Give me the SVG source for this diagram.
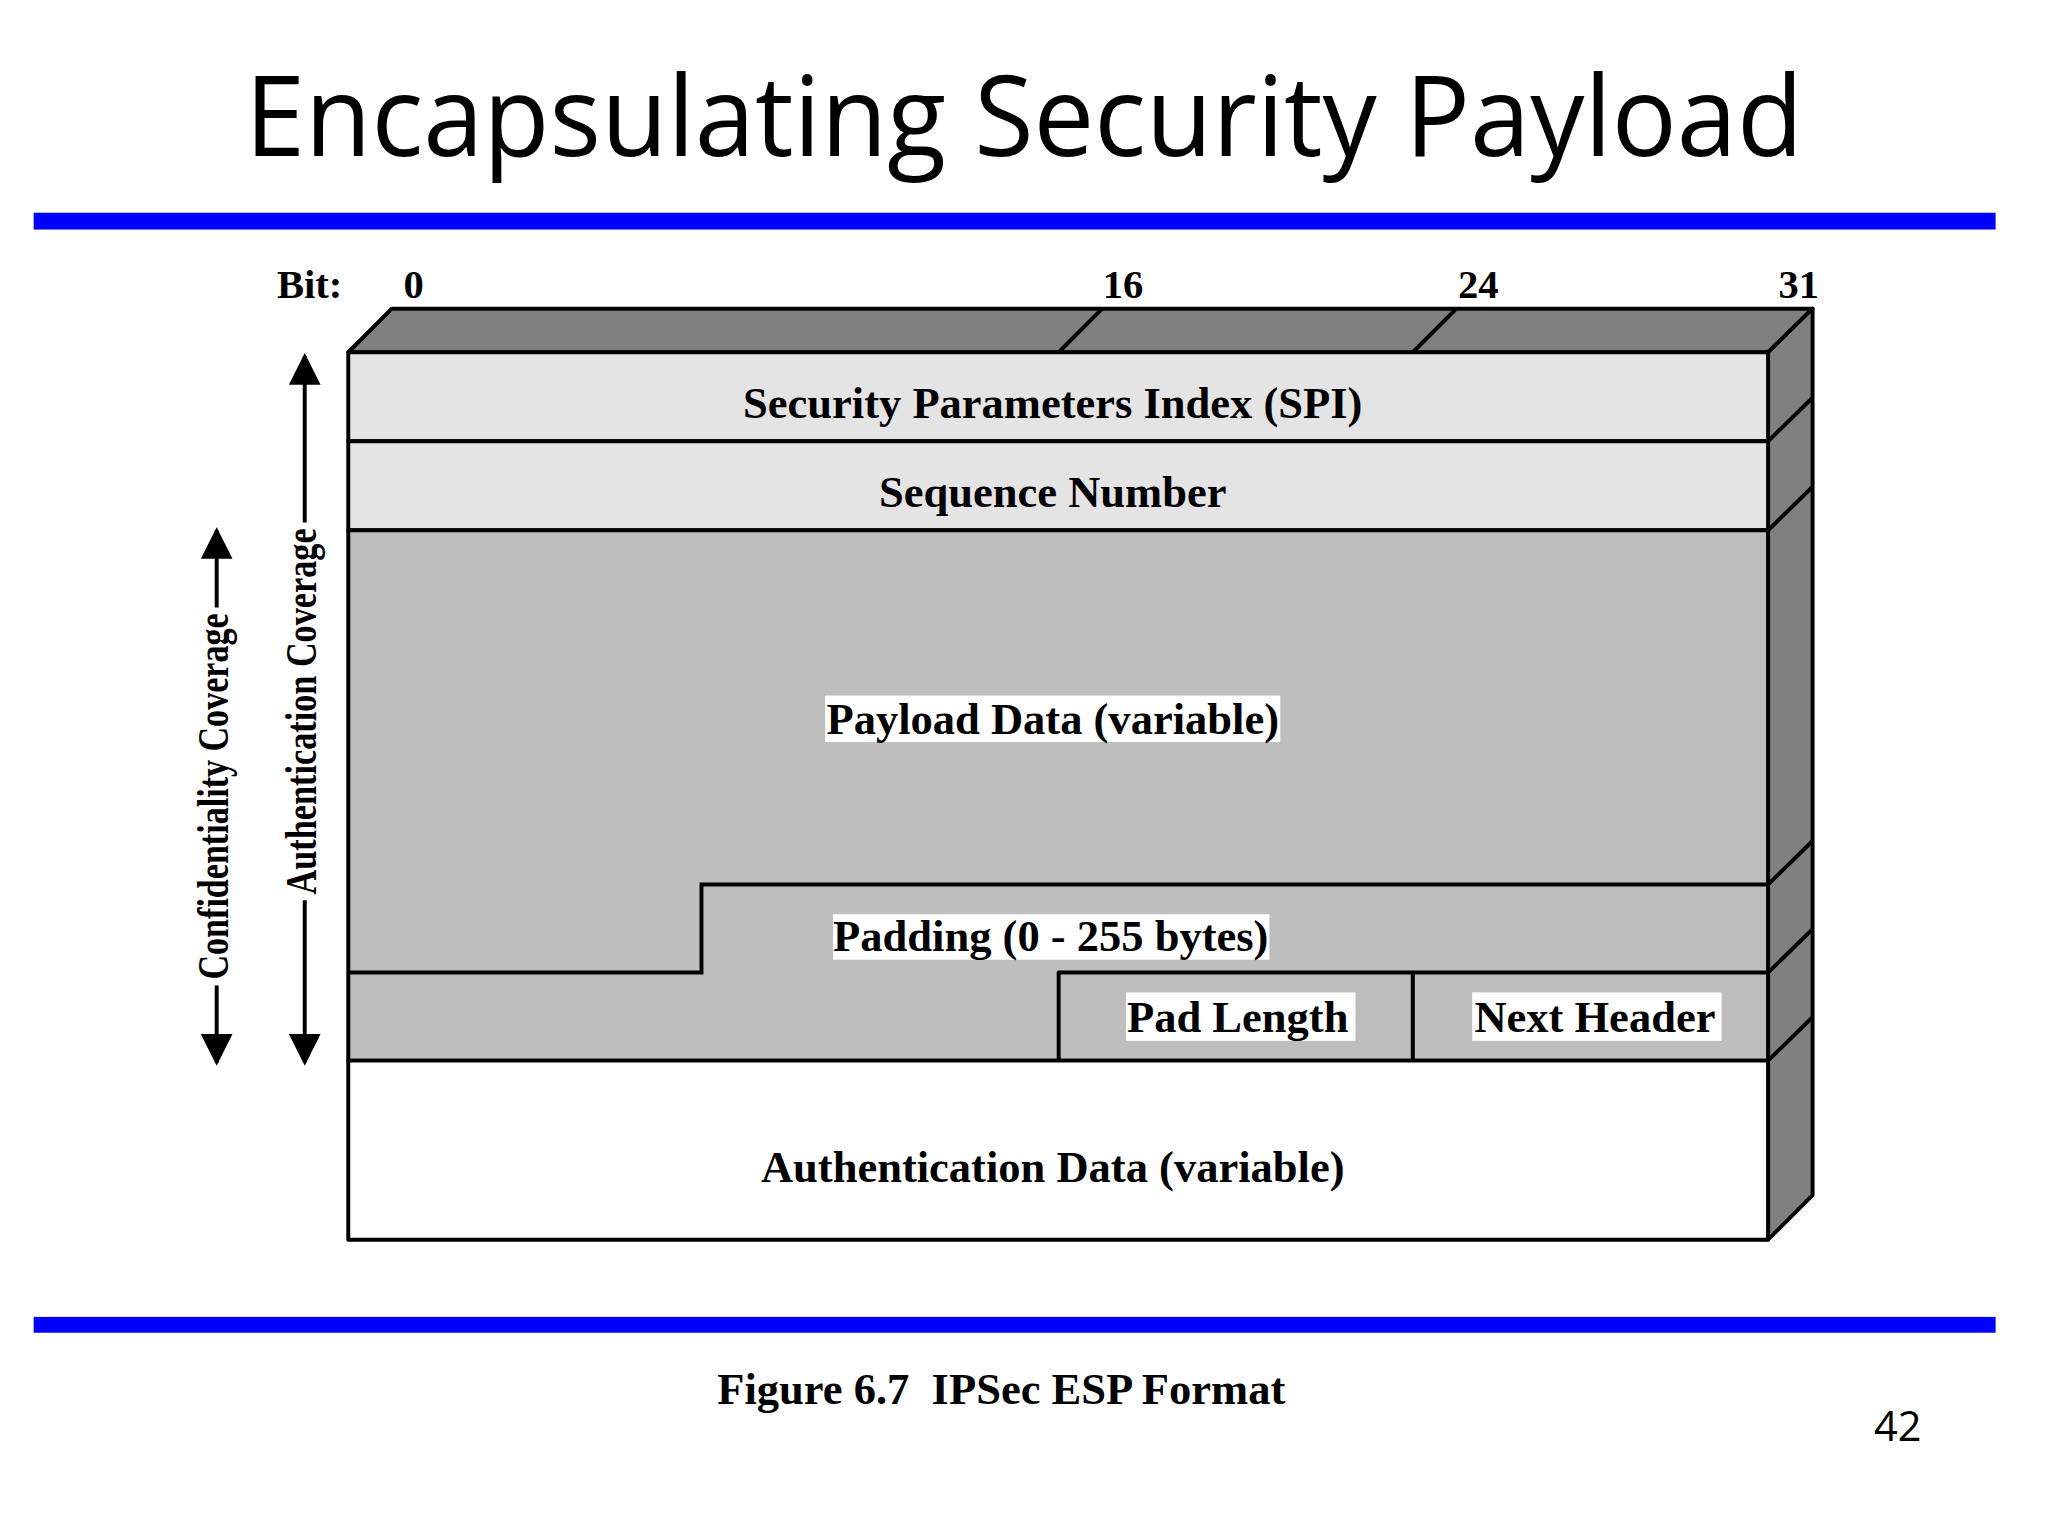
<svg xmlns="http://www.w3.org/2000/svg" width="2048" height="1536" viewBox="0 0 2048 1536">
<style>
.t{font-family:"Liberation Serif",serif;font-weight:bold;font-size:45px;fill:#000}
.b{stroke:#000;stroke-width:4;stroke-linejoin:round}
.l{stroke:#000;stroke-width:4;fill:none}
</style>
<defs><marker id="ah" viewBox="0 0 10 10" refX="9" refY="5" markerWidth="8" markerHeight="8" orient="auto-start-reverse"><path d="M0,0L10,5L0,10z" fill="#000"/></marker></defs>
<rect width="2048" height="1536" fill="#fff"/>
<g transform="scale(0.9894)">
<text x="1035" y="158" text-anchor="middle" font-family="Open Sans,sans-serif" font-size="112" textLength="1575" lengthAdjust="spacingAndGlyphs">Encapsulating Security Payload</text>
<rect x="34" y="215" width="1983" height="17" fill="#0000ff"/>
<rect x="34" y="1331" width="1983" height="16" fill="#0000ff"/>
<g id="bits" font-family="Liberation Serif,serif" font-weight="bold" font-size="41">
<text x="280" y="301">Bit:</text><text x="418" y="301" text-anchor="middle">0</text><text x="1135" y="301" text-anchor="middle">16</text><text x="1494" y="301" text-anchor="middle">24</text><text x="1818" y="301" text-anchor="middle">31</text>
</g>
<g id="box3d">
<polygon class="b" points="352,356 396,312 1832,312 1787,356" fill="#808080"/>
<polygon class="b" points="1787,356 1832,312 1832,1208 1787,1253" fill="#808080"/>
<path class="l" d="M1070,356L1114,312M1428,356L1472,312M1787,446L1832,402M1787,536L1832,492M1787,894L1832,850M1787,983L1832,939M1787,1072L1832,1028"/>
</g>
<g id="spi"><rect class="b" x="352" y="356" width="1435" height="90" fill="#e4e4e4"/><text class="t" x="1064" y="422" text-anchor="middle">Security Parameters Index (SPI)</text></g>
<g id="seq"><rect class="b" x="352" y="446" width="1435" height="90" fill="#e4e4e4"/><text class="t" x="1064" y="512" text-anchor="middle">Sequence Number</text></g>
<g id="payload"><rect class="b" x="352" y="536" width="1435" height="536" fill="#bebebe"/>
<rect x="834" y="703" width="460" height="47" fill="#fff"/><text class="t" x="1064" y="742" text-anchor="middle">Payload Data (variable)</text></g>
<g id="padding"><path class="l" d="M352,983H709V894H1787"/><rect x="842" y="924" width="441" height="46" fill="#fff"/><text class="t" x="1062" y="961" text-anchor="middle">Padding (0 - 255 bytes)</text></g>
<g id="padlen"><rect class="b" x="1070" y="983" width="358" height="89" fill="#bebebe"/><rect x="1138" y="1003" width="232" height="49" fill="#fff"/><text class="t" x="1251" y="1043" text-anchor="middle">Pad Length</text></g>
<g id="nexthdr"><rect class="b" x="1428" y="983" width="359" height="89" fill="#bebebe"/><rect x="1488" y="1003" width="252" height="49" fill="#fff"/><text class="t" x="1612" y="1043" text-anchor="middle">Next Header</text></g>
<g id="authdata"><rect class="b" x="352" y="1072" width="1435" height="181" fill="#fff"/><text class="t" x="1064" y="1195" text-anchor="middle">Authentication Data (variable)</text></g>
<g id="connectors">
<line class="l" x1="308" y1="528" x2="308" y2="360" marker-end="url(#ah)"/>
<line class="l" x1="308" y1="910" x2="308" y2="1074" marker-end="url(#ah)"/>
<line class="l" x1="219" y1="614" x2="219" y2="536" marker-end="url(#ah)"/>
<line class="l" x1="219" y1="996" x2="219" y2="1074" marker-end="url(#ah)"/>
</g>
<text class="t" font-size="34" transform="translate(319,719) rotate(-90)" text-anchor="middle" textLength="370" lengthAdjust="spacingAndGlyphs">Authentication Coverage</text>
<text class="t" font-size="34" transform="translate(230,805) rotate(-90)" text-anchor="middle" textLength="370" lengthAdjust="spacingAndGlyphs">Confidentiality Coverage</text>
<text class="t" font-size="43" x="1012" y="1419" text-anchor="middle" xml:space="preserve">Figure 6.7  IPSec ESP Format</text>
<text x="1918" y="1456" text-anchor="middle" font-family="Open Sans,sans-serif" font-size="42">42</text>
</g>
</svg>
